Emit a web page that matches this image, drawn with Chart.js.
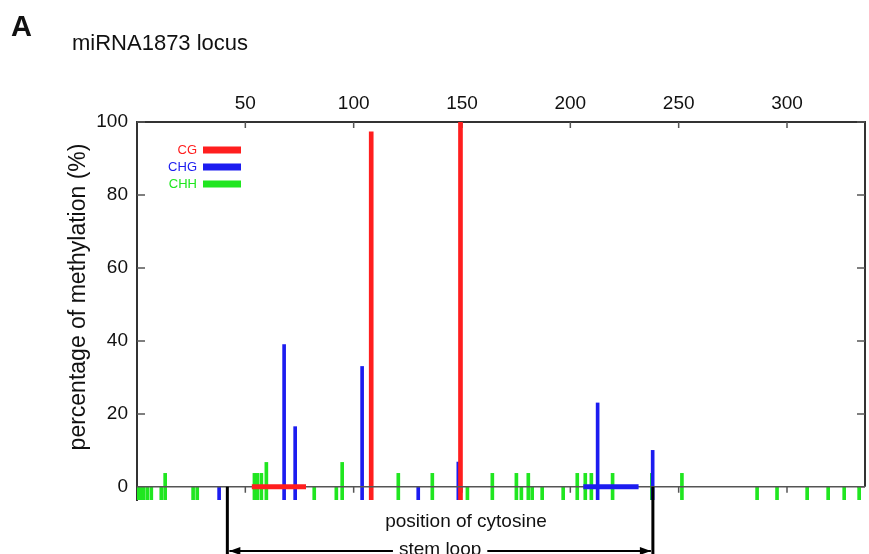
<!DOCTYPE html>
<html>
<head>
<meta charset="utf-8">
<script src="https://cdn.jsdelivr.net/npm/chart.js@4/dist/chart.umd.min.js"></script>
<style>
  body { margin: 0; background: #fff; }
</style>
</head>
<body>
<canvas id="chart" width="869" height="554"></canvas>
<script>
// positions (nt) and methylation levels (%)
const cgPos = [108.1, 149.3];
const cgVal = [97.3, 100];
const chgPos = [37.9, 67.9, 73.0, 103.9, 129.8, 148.3, 212.6, 238.0];
const chgVal = [0, 39, 16.5, 33, 0, 6.8, 23, 10];
const chhPos = [0.2, 1.5, 2.9, 4.7, 6.6, 11.2, 13.0, 25.9, 27.8, 54.2, 55.5, 57.4, 59.7, 81.8, 92.0, 94.7,
                120.6, 136.3, 152.5, 164.0, 175.1, 177.4, 180.6, 182.4, 187.0, 196.7, 203.2, 206.9, 209.7,
                219.5, 237.6, 251.5, 286.2, 295.4, 309.3, 319.0, 326.4, 333.3];
const chhVal = [0, 0, 0, 0, 0, 0, 3.7, 0, 0, 3.7, 3.7, 3.7, 6.7, 0, 0, 6.7,
                3.7, 3.7, 0, 3.7, 3.7, 0, 3.7, 0, 0, 0, 3.7, 3.7, 3.7,
                3.7, 3.7, 3.7, 0, 0, 0, 0, 0, 0];
// miRNA* / miRNA regions and stem loop
const cgRegion = [53, 78];
const chgRegion = [206, 231.5];
const stemLoop = [41.7, 238.1];
const xTickValues = [50, 100, 150, 200, 250, 300];
const yTickValues = [0, 20, 40, 60, 80, 100];
const xMax = 336;
const yMin = -3.6;

const RED = '#ff1e1e';
const BLUE = '#1c1cf0';
const GREEN = '#20e620';

const toPoints = (xs, ys) => xs.map((x, i) => ({ x: x, y: ys[i] }));

const tickFont = { family: "'Liberation Sans', sans-serif", size: 19 };

const decor = {
    id: 'decor',
    beforeDatasetsDraw(chart) {
        const { ctx, chartArea: a, scales: { x, y } } = chart;
        const y0 = y.getPixelForValue(0);
        ctx.save();
        ctx.strokeStyle = '#333';
        ctx.lineWidth = 2;
        ctx.beginPath();
        ctx.moveTo(a.right, a.top);
        ctx.lineTo(a.right, y0);
        ctx.stroke();
        ctx.strokeStyle = '#555';
        ctx.lineWidth = 1.5;
        ctx.beginPath();
        yTickValues.forEach(v => {
            const py = y.getPixelForValue(v);
            ctx.moveTo(a.left, py); ctx.lineTo(a.left + 8, py);
            ctx.moveTo(a.right - 8, py); ctx.lineTo(a.right, py);
        });
        xTickValues.forEach(v => {
            const px = x.getPixelForValue(v);
            ctx.moveTo(px, a.top); ctx.lineTo(px, a.top + 6);
            ctx.moveTo(px, y0); ctx.lineTo(px, y0 + 6);
        });
        ctx.stroke();
        ctx.restore();
    },
    afterDraw(chart) {
        const { ctx, scales: { x, y } } = chart;
        const y0 = y.getPixelForValue(0);
        ctx.save();
        ctx.fillStyle = '#111';

        // panel letter and title
        ctx.font = "bold 29px 'Liberation Sans', sans-serif";
        ctx.fillText('A', 11, 36);
        ctx.font = "22px 'Liberation Sans', sans-serif";
        ctx.fillText('miRNA1873 locus', 72, 50);

        // y axis title
        ctx.save();
        ctx.translate(79, 297);
        ctx.rotate(-Math.PI / 2);
        ctx.textAlign = 'center';
        ctx.textBaseline = 'middle';
        ctx.font = "23px 'Liberation Sans', sans-serif";
        ctx.fillText('percentage of methylation (%)', 0, 0);
        ctx.restore();

        // legend
        const bars = chart.data.datasets.filter(d => d.type === 'bar');
        ctx.font = "13px 'Liberation Sans', sans-serif";
        ctx.textAlign = 'right';
        ctx.textBaseline = 'middle';
        bars.forEach((d, i) => {
            const ly = 150 + i * 17;
            ctx.fillStyle = d.backgroundColor;
            ctx.fillText(d.label, 197, ly);
            ctx.fillRect(203, ly - 3.5, 38, 7);
        });

        // x axis title
        ctx.fillStyle = '#111';
        ctx.textAlign = 'center';
        ctx.textBaseline = 'alphabetic';
        ctx.font = "19px 'Liberation Sans', sans-serif";
        ctx.fillText('position of cytosine', 466, 527);

        // stem loop bracket
        const xl = x.getPixelForValue(stemLoop[0]);
        const xr = x.getPixelForValue(stemLoop[1]);
        const ay = 551;
        ctx.strokeStyle = '#000';
        ctx.lineWidth = 3;
        ctx.beginPath();
        ctx.moveTo(xl, y0); ctx.lineTo(xl, 554);
        ctx.moveTo(xr, y0); ctx.lineTo(xr, 554);
        ctx.stroke();
        ctx.lineWidth = 2;
        ctx.beginPath();
        ctx.moveTo(xl + 2, ay); ctx.lineTo(xr - 2, ay);
        ctx.stroke();
        ctx.fillStyle = '#000';
        ctx.beginPath();
        ctx.moveTo(xl + 2, ay); ctx.lineTo(xl + 13, ay - 4); ctx.lineTo(xl + 13, ay + 4); ctx.closePath();
        ctx.moveTo(xr - 2, ay); ctx.lineTo(xr - 13, ay - 4); ctx.lineTo(xr - 13, ay + 4); ctx.closePath();
        ctx.fill();
        const cx = (xl + xr) / 2;
        const tw = ctx.measureText('stem loop').width;
        ctx.fillStyle = '#fff';
        ctx.fillRect(cx - tw / 2 - 6, ay - 14, tw + 12, 20);
        ctx.fillStyle = '#111';
        ctx.fillText('stem loop', cx, 555);
        ctx.restore();
    }
};

new Chart(document.getElementById('chart'), {
    type: 'bar',
    data: {
        datasets: [
            { type: 'line', data: toPoints(cgRegion, [0, 0]), borderColor: RED, borderWidth: 5, pointRadius: 0, order: 0 },
            { type: 'line', data: toPoints(chgRegion, [0, 0]), borderColor: BLUE, borderWidth: 5, pointRadius: 0, order: 0 },
            { type: 'line', data: toPoints([0, xMax], [0, 0]), borderColor: '#555', borderWidth: 1.5, pointRadius: 0, order: 1 },
            { type: 'bar', label: 'CG', data: toPoints(cgPos, cgVal), backgroundColor: RED, barThickness: 4, base: yMin, grouped: false, order: 2 },
            { type: 'bar', label: 'CHG', data: toPoints(chgPos, chgVal), backgroundColor: BLUE, barThickness: 3, base: yMin, grouped: false, order: 3 },
            { type: 'bar', label: 'CHH', data: toPoints(chhPos, chhVal), backgroundColor: GREEN, barThickness: 3, base: yMin, grouped: false, order: 4 }
        ]
    },
    options: {
        responsive: false,
        devicePixelRatio: 1,
        animation: false,
        layout: { padding: { left: 0, right: 4, top: 0, bottom: 54 } },
        plugins: { legend: { display: false }, tooltip: { enabled: false } },
        scales: {
            x: {
                type: 'linear',
                position: 'top',
                min: 0,
                max: xMax,
                offset: false,
                grid: { display: false, drawTicks: false },
                border: { display: true, color: '#333', width: 2 },
                ticks: { font: tickFont, color: '#111', padding: 7, maxRotation: 0, autoSkip: false },
                afterBuildTicks: s => { s.ticks = xTickValues.map(v => ({ value: v })); },
                afterFit: s => { s.height = 122; }
            },
            y: {
                min: yMin,
                max: 100,
                grid: { display: false, drawTicks: false },
                border: { display: true, color: '#333', width: 2 },
                ticks: { font: tickFont, color: '#111', padding: 9 },
                afterBuildTicks: s => { s.ticks = yTickValues.map(v => ({ value: v })); },
                afterFit: s => { s.width = 137; }
            }
        }
    },
    plugins: [decor]
});
</script>
</body>
</html>
